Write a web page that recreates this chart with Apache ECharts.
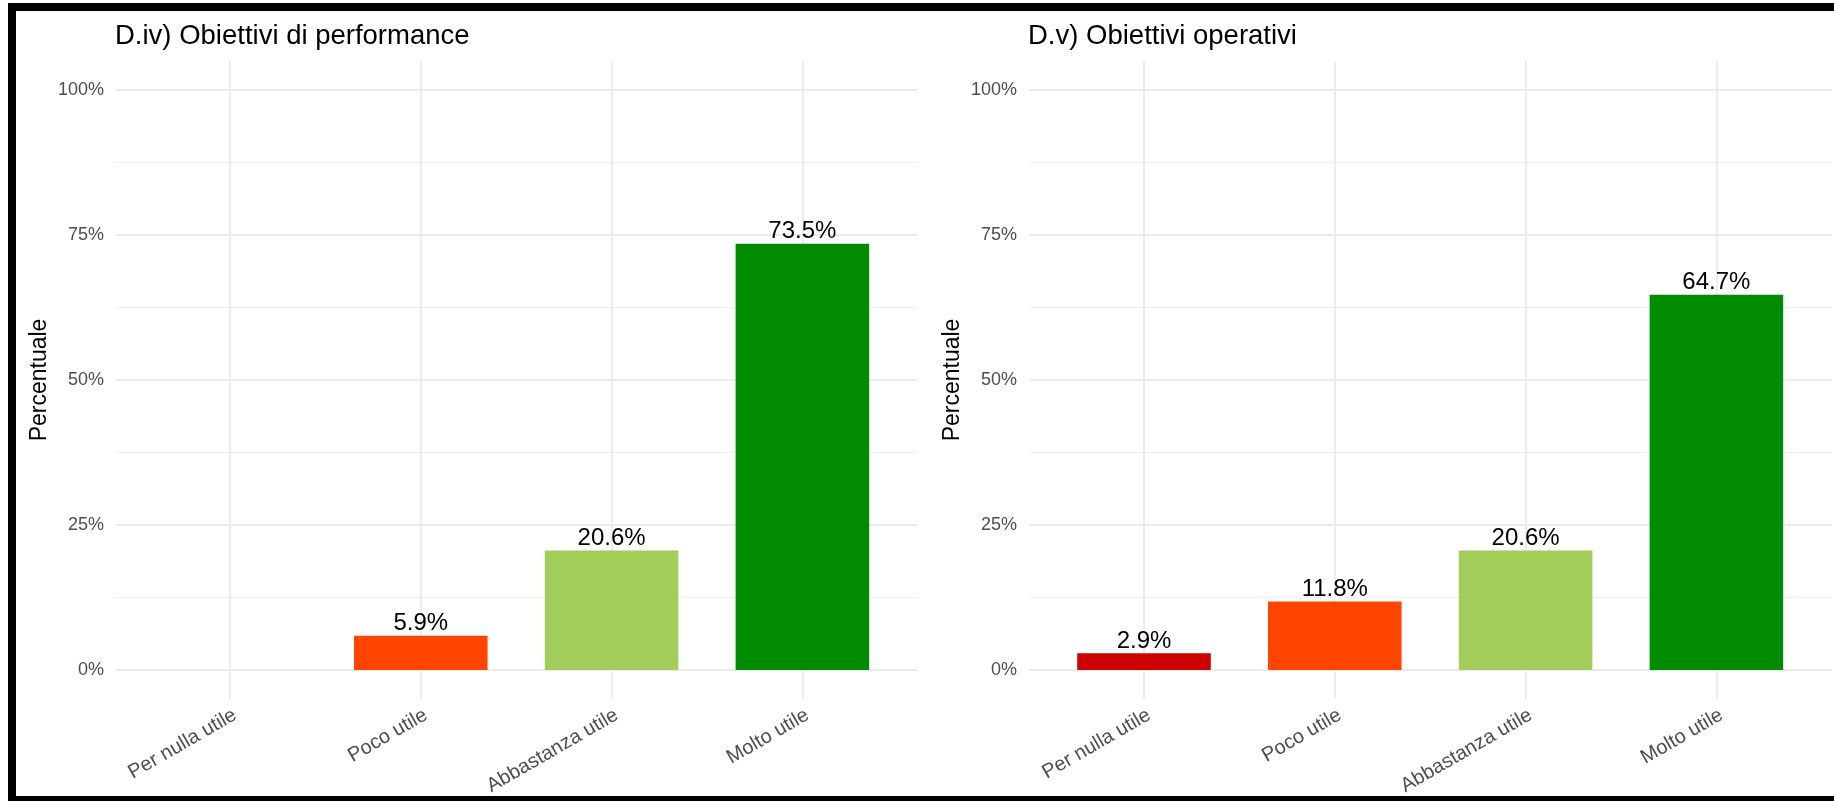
<!DOCTYPE html>
<html>
<head>
<meta charset="utf-8">
<script src="https://cdn.jsdelivr.net/npm/echarts@6/dist/echarts.min.js"></script>
<style>
html,body{margin:0;padding:0;background:#fff;}
#chart{width:1834px;height:801px;}
</style>
</head>
<body>
<div id="chart"></div>
<script>
const categories = ['Per nulla utile', 'Poco utile', 'Abbastanza utile', 'Molto utile'];
const performanceValues = [null, 5.9, 20.6, 73.5];
const operativeValues = [2.9, 11.8, 20.6, 64.7];
const barColors = ['#CD0000', '#FF4500', '#A2CD5A', '#008B00'];
const panelTitles = ['D.iv) Obiettivi di performance', 'D.v) Obiettivi operativi'];
const yAxisTitle = 'Percentuale';

const FONT = '"Liberation Sans", Arial, sans-serif';
const GRID_COLOR = '#ebebeb';

const panels = [
  { values: performanceValues, bgLeft: 116, bgWidth: 801, mainLeft: 134.6 },
  { values: operativeValues, bgLeft: 1029, bgWidth: 803, mainLeft: 1048.6 }
];

const grids = [], xAxes = [], yAxes = [], series = [], titles = [];
panels.forEach((p, i) => {
  const bg = grids.length;
  grids.push({ left: p.bgLeft, top: 90, width: p.bgWidth, height: 580, containLabel: false, outerBoundsMode: 'none' });
  grids.push({ left: p.mainLeft, top: 61, width: 763.2, height: 638, containLabel: false, outerBoundsMode: 'none' });
  xAxes.push({ gridIndex: bg, type: 'value', min: 0, max: 1, show: false });
  xAxes.push({
    gridIndex: bg + 1, type: 'category', data: categories,
    axisLine: { show: false, onZero: false },
    axisTick: { show: true, alignWithLabel: true, inside: true, length: 638,
      lineStyle: { color: GRID_COLOR, width: 1.8 } },
    splitLine: { show: false },
    axisLabel: { rotate: 30, margin: 6, verticalAlign: 'top', fontSize: 20, color: '#4d4d4d', fontFamily: FONT, interval: 0 }
  });
  yAxes.push({
    gridIndex: bg, type: 'value', min: 0, max: 100, interval: 25,
    axisLine: { show: false }, axisTick: { show: false },
    axisLabel: { formatter: '{value}%', fontSize: 18, color: '#4d4d4d', fontFamily: FONT, margin: 12 },
    splitLine: { show: true, lineStyle: { color: GRID_COLOR, width: 1.8 } },
    minorTick: { show: false, splitNumber: 2 },
    minorSplitLine: { show: true, lineStyle: { color: '#f0f0f0', width: 1 } },
    name: yAxisTitle, nameLocation: 'middle', nameRotate: 90, nameGap: 65,
    nameTextStyle: { fontSize: 23, color: '#000', fontFamily: FONT }
  });
  yAxes.push({ gridIndex: bg + 1, type: 'value', min: -5, max: 105, show: false, splitLine: { show: false } });
  series.push({
    type: 'bar', xAxisIndex: bg + 1, yAxisIndex: bg + 1, barWidth: '70%',
    data: p.values.map((v, k) => ({ value: v == null ? '-' : v, itemStyle: { color: barColors[k] } })),
    label: {
      show: true, position: 'top', distance: 0, fontSize: 24, color: '#000', fontFamily: FONT,
      formatter: (d) => d.value.toFixed(1) + '%'
    },
    z: 3
  });
  titles.push({
    text: panelTitles[i], left: p.bgLeft - 1, top: 22, padding: 0,
    textStyle: { fontSize: 27.5, fontWeight: 'normal', color: '#000', fontFamily: FONT }
  });
});

const chart = echarts.init(document.getElementById('chart'), null, { renderer: 'canvas' });
chart.setOption({
  animation: false,
  backgroundColor: '#fff',
  title: titles,
  grid: grids,
  xAxis: xAxes,
  yAxis: yAxes,
  series: series,
  graphic: [
    { type: 'rect', shape: { x: 8, y: 3, width: 8, height: 798 }, style: { fill: '#000' }, z: 100 },
    { type: 'rect', shape: { x: 8, y: 3, width: 1826, height: 8 }, style: { fill: '#000' }, z: 100 },
    { type: 'rect', shape: { x: 8, y: 796, width: 1826, height: 5 }, style: { fill: '#000' }, z: 100 }
  ]
});
</script>
</body>
</html>
